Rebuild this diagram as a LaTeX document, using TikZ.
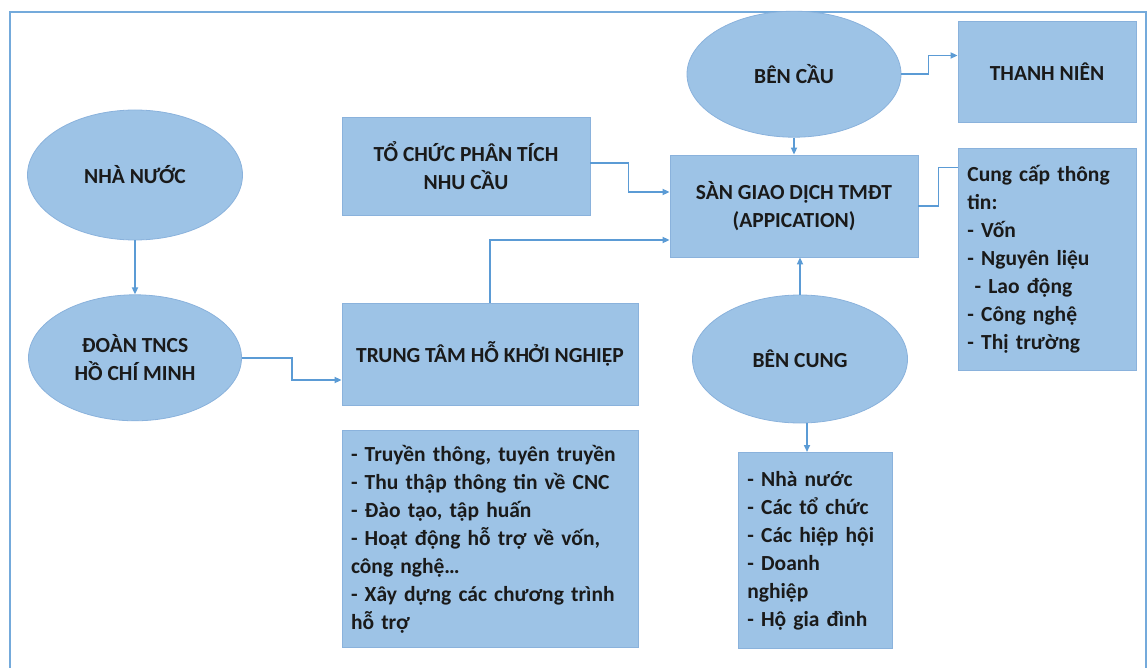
\documentclass[tikz,border=0pt]{standalone}
\usepackage{fontspec}
\setmainfont{Carlito}
\usepackage{tikz}
\usetikzlibrary{
  arrows.meta,
  shapes,
  shapes.geometric,
  positioning,
  calc
}
\definecolor{ecFill}{HTML}{9DC3E6}
\definecolor{ecEdge}{HTML}{8AB2DC}
\definecolor{ecLine}{HTML}{5B9BD5}
\definecolor{ecText}{HTML}{1A1A1A}
\tikzset{
  ecnode/.style={
    draw=ecEdge, fill=ecFill, line width=0.8pt, inner sep=0pt,
    font=\fontsize{21.5}{28}\selectfont\bfseries, text=ecText, align=center
  },
  ecbox/.style={ecnode, rectangle},
  ecoval/.style={ecnode, ellipse},
  eclist/.style={ecbox, align=left, anchor=north west, text width=#1, inner xsep=9pt, inner ysep=14pt},
  flow/.style={-{Triangle[length=7pt,width=6pt]}, line width=1.6pt, ecLine},
  link/.style={line width=1.6pt, ecLine},
  frame/.style={line width=1.6pt, ecLine!85}
}

\begin{document}
\begin{tikzpicture}[x=1pt,y=-1pt]
  \useasboundingbox (0,0) rectangle (1147,668);
  \draw[frame] (10,668) -- (10,12) -- (1146,12) -- (1146,668);

  % left column
  \node[ecoval, minimum width=215pt, minimum height=130pt] (nn) at (135,175) {NHÀ NƯỚC};
  \node[ecoval, minimum width=213pt, minimum height=126pt, below=54pt of nn] (doan) {ĐOÀN TNCS\\HỒ CHÍ MINH};

  % middle column
  \node[ecbox, minimum width=248pt, minimum height=98pt] (tochuc) at (466,166) {TỔ CHỨC PHÂN TÍCH\\NHU CẦU};
  \node[ecbox, minimum width=296pt, minimum height=102pt] (trungtam) at (490,354) {TRUNG TÂM HỖ KHỞI NGHIỆP};
  \node[eclist=278pt, minimum height=217pt] (ttlist) at ([yshift=-25pt]trungtam.south west) {%
    - Truyền thông, tuyên truyền\\
    - Thu thập thông tin về CNC\\
    - Đào tạo, tập huấn\\
    - Hoạt động hỗ trợ về vốn,\\
    công nghệ…\\
    - Xây dựng các chương trình\\
    hỗ trợ};

  % exchange
  \node[ecbox, minimum width=248pt, minimum height=102pt] (san) at (794,206) {SÀN GIAO DỊCH TMĐT\\(APPICATION)};
  \node[ecoval, minimum width=214pt, minimum height=126pt, above=17pt of san] (bencau) {BÊN CẦU};
  \node[ecoval, minimum width=215pt, minimum height=128pt] (bencung) at (800,359) {BÊN CUNG};
  \node[eclist=136pt, minimum height=196pt] (bclist) at (738,452) {%
    - Nhà nước\\
    - Các tổ chức\\
    - Các hiệp hội\\
    - Doanh\\
    nghiệp\\
    - Hộ gia đình};

  % right column
  \node[ecbox, minimum width=178pt, minimum height=101pt] (thanhnien) at (1047,71.5) {THANH NIÊN};
  \node[eclist=160pt, minimum height=222pt, inner ysep=12pt] (cungcap) at (958,148) {%
    Cung cấp thông\\
    tin:\\
    - Vốn\\
    - Nguyên liệu\\
    \ - Lao động\\
    - Công nghệ\\
    - Thị trường};

  % connectors
  \draw[flow] (nn.south) -- (doan.north);
  \draw[flow] (doan.east) -- ++(50pt,0) |- ([yshift=-26pt]trungtam.west);
  \draw[flow] ([yshift=3pt]tochuc.east) -- ++(38pt,0) |- ([yshift=14pt]san.west);
  \draw[flow] (trungtam.north) |- ([yshift=-34pt]san.west);
  \draw[flow] (bencau.south) -- (san.north);
  \draw[flow] (bencau.east) -- ++(27pt,0) |- ([yshift=16pt]thanhnien.west);
  \draw[link] (san.east) -- ++(20pt,0) |- ([yshift=92pt]cungcap.west);
  \draw[flow] (bencung.north) -- (bencung.north |- san.south);
  \draw[flow] ([xshift=7pt]bencung.south) -- ([xshift=7pt]bencung.south |- bclist.north);
\end{tikzpicture}
\end{document}
